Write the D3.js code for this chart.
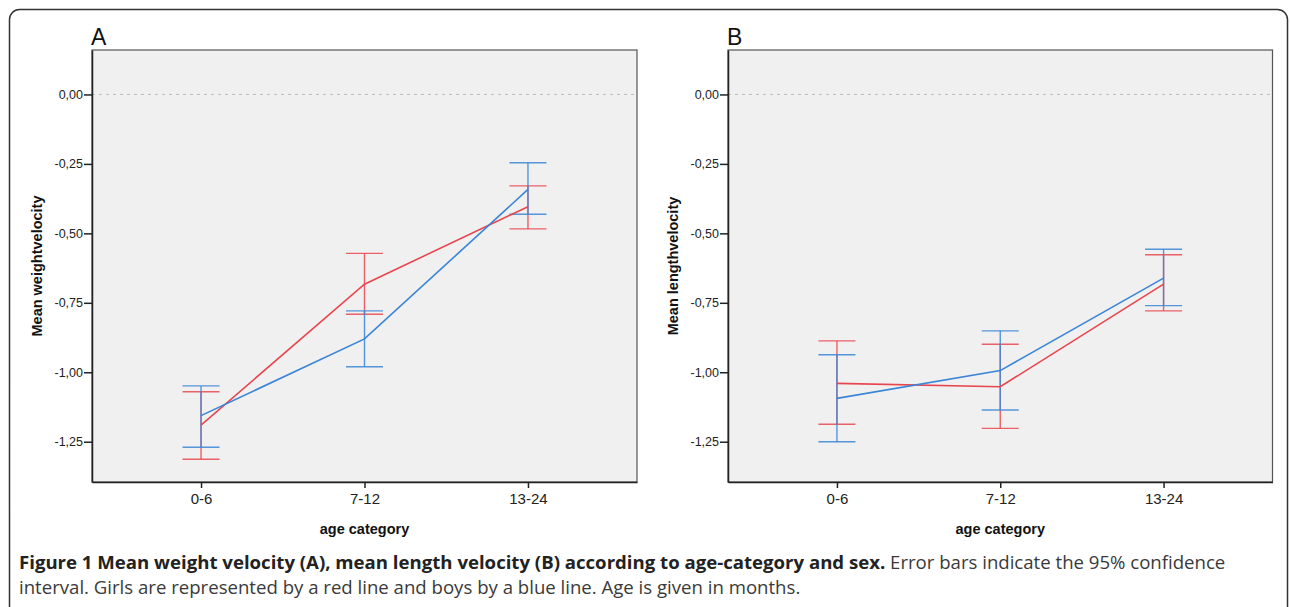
<!DOCTYPE html>
<html>
<head>
<meta charset="utf-8">
<script src="https://cdn.jsdelivr.net/npm/d3@7/dist/d3.min.js"></script>
<style>
  html, body { margin: 0; padding: 0; background: #fff; }
  svg { display: block; }
</style>
</head>
<body>
<div id="chart"></div>
<script>
// Daten
const categories = ["0-6", "7-12", "13-24"];
const yTicks = [0, -0.25, -0.5, -0.75, -1, -1.25];

// A: weight velocity
const weightGirlsMean = [-1.190, -0.683, -0.404];
const weightGirlsLow  = [-1.313, -0.791, -0.484];
const weightGirlsHigh = [-1.070, -0.572, -0.329];
const weightBoysMean  = [-1.156, -0.880, -0.342];
const weightBoysLow   = [-1.270, -0.980, -0.431];
const weightBoysHigh  = [-1.049, -0.779, -0.246];

// B: length velocity
const lengthGirlsMean = [-1.040, -1.052, -0.683];
const lengthGirlsLow  = [-1.187, -1.202, -0.779];
const lengthGirlsHigh = [-0.887, -0.899, -0.577];
const lengthBoysMean  = [-1.094, -0.994, -0.661];
const lengthBoysLow   = [-1.250, -1.136, -0.760];
const lengthBoysHigh  = [-0.937, -0.851, -0.557];

const RED = "#e8464e";
const BLUE = "#3a85d6";

const width = 1290;
const height = 607;

const svg = d3.select("#chart")
    .append("svg")
    .attr("width", width)
    .attr("height", height);

// Rahmen
svg.append("rect")
    .attr("x", 9.5)
    .attr("y", 9.5)
    .attr("width", 1278)
    .attr("height", 640)
    .attr("rx", 10)
    .attr("fill", "none")
    .attr("stroke", "#333")
    .attr("stroke-width", 1.5);

const locale = d3.formatLocale({ decimal: ",", thousands: ".", grouping: [3], currency: ["", ""], minus: "-" });
const fmt = locale.format(".2f");

function zip(mean, low, high) {
    return categories.map((c, i) => ({ cat: c, mean: mean[i], low: low[i], high: high[i] }));
}

/**
 * Zeichnet ein Panel mit Fehlerbalken
 */
function drawPanel(opts) {
    const { left, top, right, bottom, letter, yLabel, series } = opts;

    const x = d3.scalePoint()
        .domain(categories)
        .range([left, right])
        .padding(0.667);

    const y = d3.scaleLinear()
        .domain([-1.395, 0.16])
        .range([bottom, top]);

    const g = svg.append("g");

    g.append("rect")
        .attr("x", left)
        .attr("y", top)
        .attr("width", right - left)
        .attr("height", bottom - top)
        .attr("fill", "#f0f0f0")
        .attr("stroke", "#555")
        .attr("stroke-width", 1.2);

    // Nulllinie
    g.append("line")
        .attr("x1", left)
        .attr("x2", right)
        .attr("y1", y(0))
        .attr("y2", y(0))
        .attr("stroke", "#bdbdbd")
        .attr("stroke-width", 1)
        .attr("stroke-dasharray", "3,4");

    const yAxis = g.append("g")
        .attr("transform", `translate(${left},0)`)
        .call(d3.axisLeft(y).tickValues(yTicks).tickFormat(fmt).tickSize(8).tickSizeOuter(0));
    yAxis.select(".domain").attr("stroke", "#222").attr("stroke-width", 1.5);
    yAxis.selectAll(".tick line").attr("stroke", "#222").attr("stroke-width", 1.5);
    yAxis.selectAll(".tick text")
        .attr("x", -9)
        .style("font-family", "Liberation Sans, Arial, sans-serif")
        .style("font-size", "12.5px")
        .attr("fill", "#222");

    const xAxis = g.append("g")
        .attr("transform", `translate(0,${bottom})`)
        .call(d3.axisBottom(x).tickSize(6).tickSizeOuter(0));
    xAxis.select(".domain").attr("stroke", "#222").attr("stroke-width", 1.5);
    xAxis.selectAll(".tick line").attr("stroke", "#222").attr("stroke-width", 1.5);
    xAxis.selectAll(".tick text")
        .attr("y", 11)
        .style("font-family", "Liberation Sans, Arial, sans-serif")
        .style("font-size", "15px")
        .attr("fill", "#222");

    // Achsentitel
    g.append("text")
        .attr("x", (left + right) / 2)
        .attr("y", 534)
        .attr("text-anchor", "middle")
        .style("font-family", "Liberation Sans, Arial, sans-serif")
        .style("font-size", "14.5px")
        .style("font-weight", "bold")
        .attr("fill", "#111")
        .text("age category");

    g.append("text")
        .attr("transform", `translate(${left - 50},${(top + bottom) / 2}) rotate(-90)`)
        .attr("text-anchor", "middle")
        .style("font-family", "Liberation Sans, Arial, sans-serif")
        .style("font-size", "14.5px")
        .style("font-weight", "bold")
        .attr("fill", "#111")
        .text(yLabel);

    g.append("text")
        .attr("x", left - 1)
        .attr("y", top - 5)
        .style("font-family", "Liberation Sans, Arial, sans-serif")
        .style("font-size", "23px")
        .attr("fill", "#111")
        .text(letter);

    const line = d3.line()
        .x(d => x(d.cat))
        .y(d => y(d.mean));

    const capHalf = 18.5;

    series.forEach(s => {
        const eb = g.append("g").attr("stroke", s.color).attr("stroke-width", 1.4).attr("stroke-opacity", 0.85);
        s.data.forEach(d => {
            eb.append("line")
                .attr("x1", x(d.cat)).attr("x2", x(d.cat))
                .attr("y1", y(d.low)).attr("y2", y(d.high));
            eb.append("line")
                .attr("x1", x(d.cat) - capHalf).attr("x2", x(d.cat) + capHalf)
                .attr("y1", y(d.low)).attr("y2", y(d.low));
            eb.append("line")
                .attr("x1", x(d.cat) - capHalf).attr("x2", x(d.cat) + capHalf)
                .attr("y1", y(d.high)).attr("y2", y(d.high));
        });
    });

    series.forEach(s => {
        g.append("path")
            .datum(s.data)
            .attr("d", line)
            .attr("fill", "none")
            .attr("stroke", s.color)
            .attr("stroke-width", 1.6);
    });
}

drawPanel({
    left: 92, top: 50, right: 637, bottom: 482,
    letter: "A",
    yLabel: "Mean weightvelocity",
    series: [
        { color: RED, data: zip(weightGirlsMean, weightGirlsLow, weightGirlsHigh) },
        { color: BLUE, data: zip(weightBoysMean, weightBoysLow, weightBoysHigh) }
    ]
});

drawPanel({
    left: 728, top: 50, right: 1272.5, bottom: 482,
    letter: "B",
    yLabel: "Mean lengthvelocity",
    series: [
        { color: RED, data: zip(lengthGirlsMean, lengthGirlsLow, lengthGirlsHigh) },
        { color: BLUE, data: zip(lengthBoysMean, lengthBoysLow, lengthBoysHigh) }
    ]
});

// Bildunterschrift (zwei Zeilen, als getrennte Texte)
const captionFont = "Open Sans, sans-serif";

const line1 = svg.append("text")
    .attr("x", 19)
    .attr("y", 569)
    .style("font-family", captionFont)
    .style("font-size", "18.6px")
    .attr("fill", "#3a3a3a");
line1.append("tspan")
    .style("font-weight", "bold")
    .attr("fill", "#222")
    .text("Figure 1 Mean weight velocity (A), mean length velocity (B) according to age-category and sex.");
line1.append("tspan").text(" Error bars indicate the 95% confidence");

svg.append("text")
    .attr("x", 19)
    .attr("y", 594)
    .style("font-family", captionFont)
    .style("font-size", "18.6px")
    .attr("fill", "#3a3a3a")
    .text("interval. Girls are represented by a red line and boys by a blue line. Age is given in months.");
</script>
</body>
</html>
